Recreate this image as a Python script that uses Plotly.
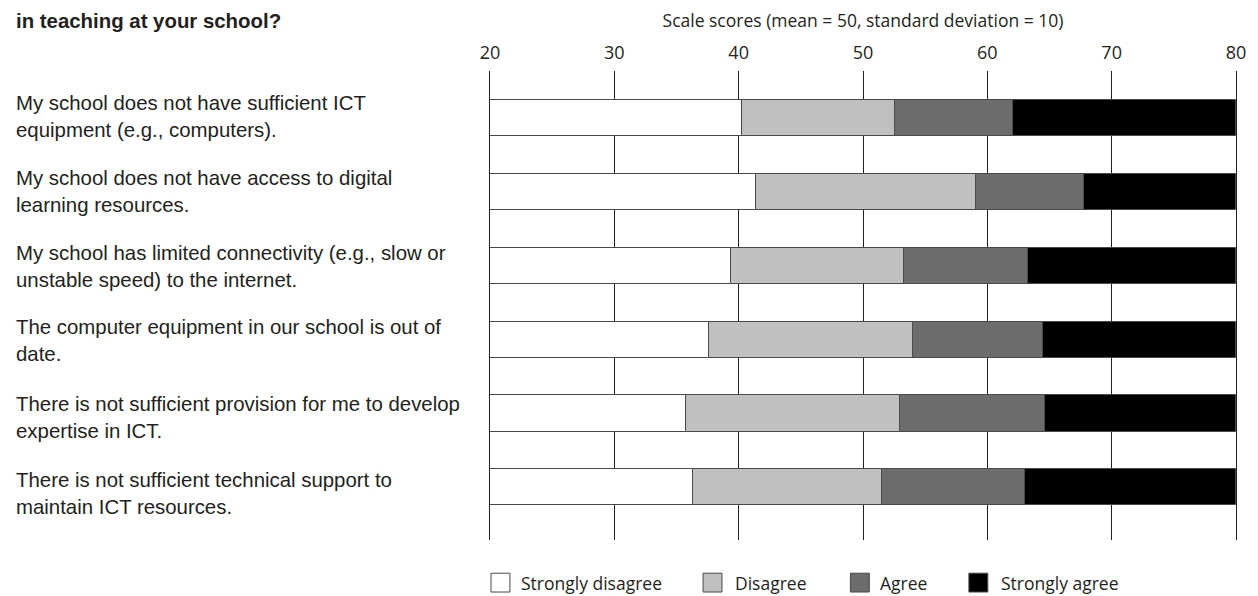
import plotly.graph_objects as go

# ---------------- data ----------------
statements = [
    "My school does not have sufficient ICT<br>equipment (e.g., computers).",
    "My school does not have access to digital<br>learning resources.",
    "My school has limited connectivity (e.g., slow or<br>unstable speed) to the internet.",
    "The computer equipment in our school is out of<br>date.",
    "There is not sufficient provision for me to develop<br>expertise in ICT.",
    "There is not sufficient technical support to<br>maintain ICT resources.",
]
categories = ["Strongly disagree", "Disagree", "Agree", "Strongly agree"]
scale_min = 20
strongly_disagree_end = [40.3, 41.4, 39.4, 37.6, 35.8, 36.3]
disagree_end = [52.6, 59.1, 53.3, 54.0, 53.0, 51.5]
agree_end = [62.1, 67.8, 63.3, 64.5, 64.6, 63.0]
strongly_agree_end = [80, 80, 80, 80, 80, 80]
tick_values = [20, 30, 40, 50, 60, 70, 80]
axis_title = "Scale scores (mean = 50, standard deviation = 10)"
question_title = "in teaching at your school?"

colors = ["#ffffff", "#bfc0c2", "#6b6c6b", "#000000"]
outline = "#4a4a4a"
ink = "#231f20"

# ---------------- geometry (page has an 8px body margin) ----------------
OFF = 8
W, H = 1258 - OFF, 596 - OFF
L, R, T, B = 490, 1239.3, 66.7, 540          # plot area in page pixels
def px(x):
    return (x - L) / (R - L)
def py(y):
    return (B - y) / (B - T)
label_shift = [1.2, 1.0, -0.8, -1.3, -3.8, -6.3]

fig = go.Figure()
ypos = list(range(len(statements)))
bounds = [[scale_min] * len(statements), strongly_disagree_end, disagree_end,
          agree_end, strongly_agree_end]
for k, name in enumerate(categories):
    start = bounds[k]
    end = bounds[k + 1]
    fig.add_trace(go.Bar(
        y=ypos, x=[e - s for s, e in zip(start, end)], base=start,
        orientation="h", width=0.49, name=name, showlegend=False,
        marker=dict(color=colors[k], line=dict(color=outline, width=1)),
        hoverinfo="skip",
    ))

annotations = []
for i, s in enumerate(statements):
    annotations.append(dict(
        text=s, xref="paper", yref="y", x=px(11.7), y=i, xanchor="left",
        yanchor="middle", align="left", showarrow=False, yshift=label_shift[i],
        font=dict(family="Liberation Sans, Arial", size=20.4, color=ink),
    ))
annotations.append(dict(
    text="<b>%s</b>" % question_title, xref="paper", yref="paper",
    x=px(11.7), y=py(16), xanchor="left", yanchor="middle", showarrow=False,
    font=dict(family="Liberation Sans, Arial", size=20.4, color=ink),
))

# legend drawn as boxes + labels
legend_sq_x = [491, 704, 852, 971]
legend_text_x = [519.5, 734, 880, 1001]
shapes = []
for k, name in enumerate(categories):
    shapes.append(dict(
        type="rect", xref="paper", yref="paper",
        x0=px(legend_sq_x[k]), x1=px(legend_sq_x[k] + 19),
        y0=py(592.5), y1=py(573.5),
        fillcolor=colors[k], line=dict(color=outline, width=1),
    ))
    annotations.append(dict(
        text=name, xref="paper", yref="paper", x=px(legend_text_x[k]),
        y=py(583), xanchor="left", yanchor="middle", showarrow=False,
        font=dict(family="Open Sans", size=17.5, color=ink),
    ))

fig.update_layout(
    width=W, height=H,
    margin=dict(l=L - OFF, r=W - (R - OFF), t=T - OFF, b=H - (B - OFF), pad=0),
    paper_bgcolor="white", plot_bgcolor="white",
    barmode="overlay", bargap=0,
    showlegend=False,
    annotations=annotations, shapes=shapes,
    xaxis=dict(
        side="top", range=[scale_min, 80], tickvals=tick_values,
        showgrid=True, gridcolor=ink, gridwidth=1, zeroline=False,
        showline=False, ticks="", ticklabelstandoff=7,
        tickfont=dict(family="Open Sans", size=18, color=ink),
        title=dict(text=axis_title, standoff=8,
                   font=dict(family="Open Sans", size=17.5, color=ink)),
    ),
    yaxis=dict(
        range=[5.714, -0.639], showticklabels=False, showgrid=False,
        zeroline=False, showline=True, mirror=True, linecolor=ink,
        linewidth=1, ticks="",
    ),
)

fig.write_html("out.html")
